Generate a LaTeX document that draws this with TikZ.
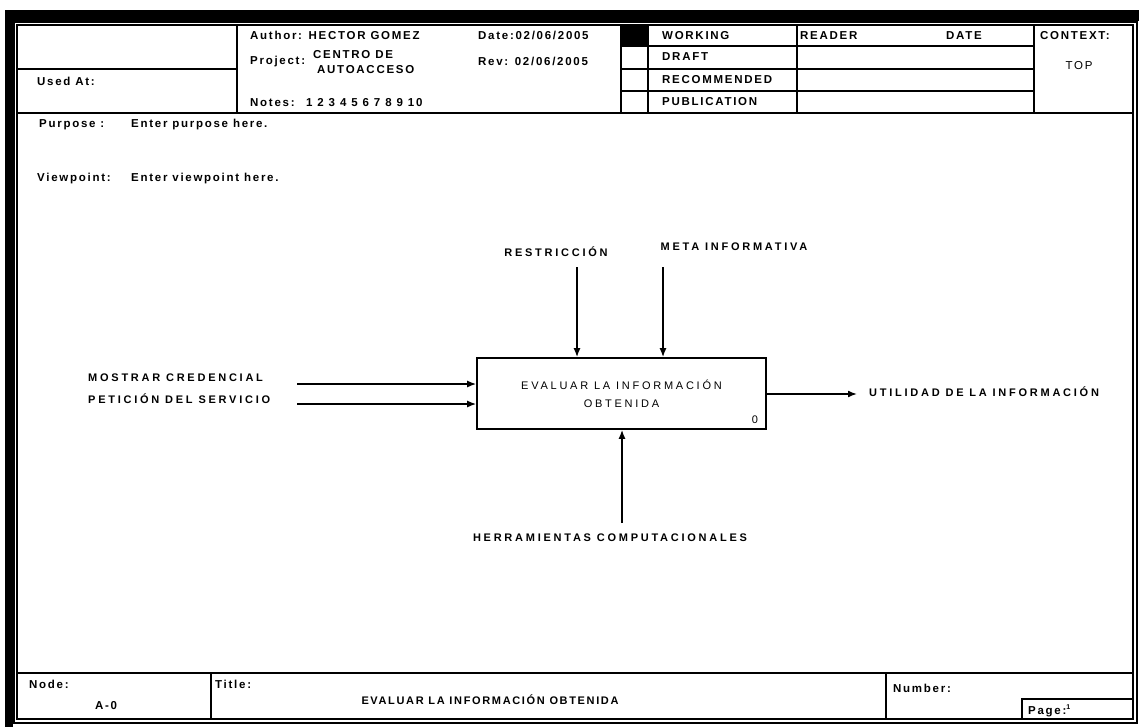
\documentclass[tikz,border=0pt]{standalone}
\usepackage{fontspec}
\setmainfont{Liberation Sans}
\newfontfamily\wide[LetterSpace=15]{Liberation Sans}
\newfontfamily\wider[LetterSpace=25]{Liberation Sans}
\usetikzlibrary{arrows.meta}
\begin{document}
\begin{tikzpicture}[x=1pt,y=-1pt,
  frame/.style={line width=1.2pt},
  rule/.style={line width=1.6pt},
  hdr/.style={anchor=west,inner sep=0pt,font=\wide\bfseries\fontsize{11.5}{12}\selectfont},
  lbl/.style={inner sep=0pt,font=\wider\bfseries\fontsize{11}{12}\selectfont},
  boxtxt/.style={inner sep=0pt,align=center,font=\wider\fontsize{11}{18}\selectfont},
  actbox/.style={draw,line width=1.6pt,minimum width=289pt,minimum height=71pt,inner sep=0pt},
  flow/.style={line width=1.6pt,-{Latex[length=9pt,width=7pt]}}
]
\useasboundingbox (0,0) rectangle (1139,727);
\fill[white] (0,0) rectangle (1139,727);
% black bands
\fill[black] (5,10) rectangle (1139,21);
\fill[black] (5,10) rectangle (13,727);
% double frame
\draw[frame] (14,22) rectangle (1137,723);
\draw[frame] (17,25) rectangle (1133,719);
% header
\draw[rule] (17,113) -- (1133,113);
\draw[rule] (17,69) -- (237,69);
\draw[rule] (237,25) -- (237,113);
\fill[black] (621,26) rectangle (648,46);
\draw[rule] (621,25) -- (621,113);
\draw[rule] (648,25) -- (648,113);
\draw[rule] (797,25) -- (797,113);
\draw[rule] (1034,25) -- (1034,113);
\draw[rule] (621,46) -- (1034,46);
\draw[rule] (621,69) -- (1034,69);
\draw[rule] (621,91) -- (1034,91);
% footer
\draw[rule] (17,673) -- (1133,673);
\draw[rule] (211,673) -- (211,719);
\draw[rule] (886,673) -- (886,719);
\draw[rule] (1022,699) rectangle (1133,719);

% header texts
\node[hdr] (usedat) at (37,81) {Used At:};
\node[hdr] (author) at (250,35) {Author: HECTOR GOMEZ};
\node[hdr] (date) at (478,35) {Date:02/06/2005};
\node[hdr] (project) at (250,62) {Project:};
\node[hdr] (proj1) at (313,55) {CENTRO DE};
\node[hdr] (proj2) at (317,70) {AUTOACCESO};
\node[hdr] (rev) at (478,61) {Rev: 02/06/2005};
\node[hdr] (notes) at (250,103) {Notes: \ 1 2 3 4 5 6 7 8 9 10};
\node[hdr] (working) at (662,36) {WORKING};
\node[hdr] (draft) at (662,57) {DRAFT};
\node[hdr] (recom) at (662,80) {RECOMMENDED};
\node[hdr] (publ) at (662,102) {PUBLICATION};
\node[hdr] (reader) at (800,36) {READER};
\node[hdr] (rdate) at (946,36) {DATE};
\node[hdr] (context) at (1040,36) {CONTEXT:};
\node[hdr,anchor=center,font=\wide\fontsize{11.5}{12}\selectfont] (top) at (1079,66) {TOP};
\node[hdr] (purpose) at (39,125) {Purpose :};
\node[hdr] (purposetxt) at (131,125) {Enter purpose here.};
\node[hdr] (viewpoint) at (37,179) {Viewpoint:};
\node[hdr] (viewtxt) at (131,179) {Enter viewpoint here.};

% activity box
\node[actbox] (A0) at (621.5,393.5) {};
\node[boxtxt] (A0txt) at (621.5,394) {EVALUAR LA INFORMACIÓN\\OBTENIDA};
\node[inner sep=0pt,font=\wide\fontsize{11}{12}\selectfont] (A0num) at (755,420) {0};

% labels
\node[lbl] (restr) at (556,252) {RESTRICCIÓN};
\node[lbl] (meta) at (734,247) {META INFORMATIVA};
\node[lbl,anchor=west] (in1) at (88,378) {MOSTRAR CREDENCIAL};
\node[lbl,anchor=west] (in2) at (88,399) {PETICIÓN DEL SERVICIO};
\node[lbl,anchor=west] (out1) at (869,392) {UTILIDAD DE LA INFORMACIÓN};
\node[lbl] (mech) at (610,538) {HERRAMIENTAS COMPUTACIONALES};

% connectors
\coordinate (rs) at (577,267);
\coordinate (ms) at (663,267);
\coordinate (is1) at (297,384);
\coordinate (is2) at (297,404);
\coordinate (oe) at (857,394);
\coordinate (hs) at (622,523);
\draw[flow] (rs) -- (rs |- A0.north);
\draw[flow] (ms) -- (ms |- A0.north);
\draw[flow] (is1) -- (is1 -| A0.west);
\draw[flow] (is2) -- (is2 -| A0.west);
\draw[flow] (oe -| A0.east) -- (oe);
\draw[flow] (hs) -- (hs |- A0.south);

% footer texts
\node[hdr] (node) at (29,684) {Node:};
\node[hdr,anchor=center] (nodeval) at (106,706) {A-0};
\node[hdr] (title) at (215,684) {Title:};
\node[hdr,anchor=center,font=\wide\bfseries\fontsize{11}{12}\selectfont] (titleval) at (490,700) {EVALUAR LA INFORMACIÓN OBTENIDA};
\node[hdr] (number) at (893,688) {Number:};
\node[hdr] (page) at (1028,711) {Page:\raisebox{5pt}{\fontsize{7}{7}\selectfont 1}};
\end{tikzpicture}
\end{document}
